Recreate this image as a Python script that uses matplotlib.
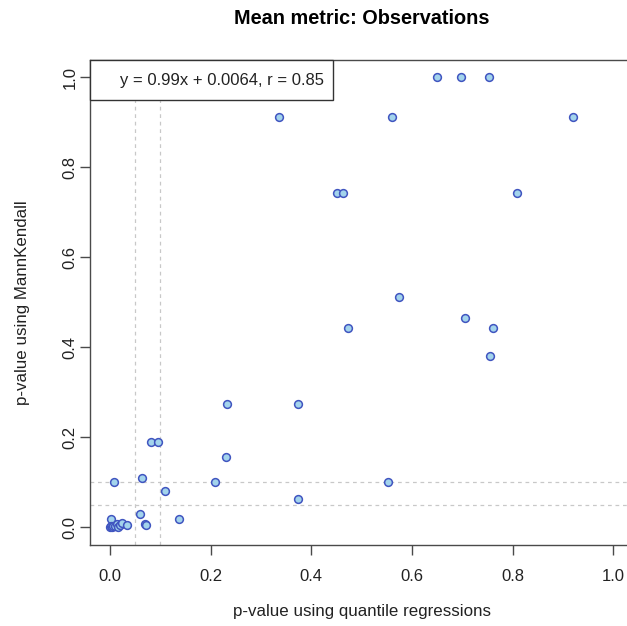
import matplotlib
matplotlib.use("Agg")
import matplotlib.pyplot as plt
from matplotlib.patches import Rectangle

plt.rcParams['font.family'] = ['Liberation Sans', 'DejaVu Sans']

# p-values (x: quantile regressions, y: MannKendall)
x_qr = [0.649, 0.698, 0.754,
        0.336, 0.560, 0.919,
        0.451, 0.463, 0.809,
        0.575, 0.705, 0.472, 0.762, 0.756,
        0.232, 0.374, 0.230,
        0.0815, 0.096,
        0.008, 0.063, 0.208, 0.552, 0.109, 0.374,
        0.060, 0.137, 0.069, 0.071, 0.002,
        0.000, 0.001, 0.004, 0.006, 0.010, 0.013, 0.016, 0.020, 0.024, 0.033]
y_mk = [1.000, 1.000, 1.000,
        0.913, 0.913, 0.913,
        0.742, 0.742, 0.742,
        0.512, 0.466, 0.443, 0.443, 0.381,
        0.274, 0.274, 0.156,
        0.190, 0.190,
        0.101, 0.108, 0.101, 0.101, 0.080, 0.062,
        0.029, 0.017, 0.007, 0.005, 0.018,
        0.000, 0.002, 0.000, 0.003, 0.002, 0.006, 0.001, 0.004, 0.008, 0.004]
thresholds = [0.05, 0.1]
ticks = [0.0, 0.2, 0.4, 0.6, 0.8, 1.0]
tick_labels = ["0.0", "0.2", "0.4", "0.6", "0.8", "1.0"]
title = "Mean metric: Observations"
xlabel = "p-value using quantile regressions"
ylabel = "p-value using MannKendall"
fit_text = "y = 0.99x + 0.0064, r = 0.85"

W, H = 627, 626
fig = plt.figure(figsize=(W / 100, H / 100), dpi=100)
L, R, T, B = 89.9, 633.4, 59.5, 545.0
ax = fig.add_axes([L / W, 1 - B / H, (R - L) / W, (B - T) / H])
ax.set_xlim(-0.04, 1.04)
ax.set_ylim(-0.04, 1.04)

for t in thresholds:
    ax.axhline(t, color='#c8c8c8', lw=0.9, dashes=(3, 3), zorder=1)
    ax.axvline(t, color='#c8c8c8', lw=0.9, dashes=(3, 3), zorder=1)

ax.plot(x_qr, y_mk, linestyle='none', marker='o', markersize=5.6,
        markerfacecolor='#a3d4ec', markeredgecolor='#4055c0',
        markeredgewidth=1.1, zorder=3, clip_on=False)

for s in ax.spines.values():
    s.set_color('#4a4a4a')
    s.set_linewidth(1.0)

ax.set_xticks(ticks)
ax.set_xticklabels(tick_labels)
ax.set_yticks(ticks)
ax.set_yticklabels(tick_labels, rotation=90, va='center')
ax.tick_params(axis='both', direction='out', length=7.5, width=1.0,
               color='#4a4a4a', labelsize=12, labelcolor='#222222')
ax.tick_params(axis='x', pad=10)
ax.tick_params(axis='y', pad=1.5)

ax.set_xlabel(xlabel, fontsize=12.2, color='#222222', labelpad=14.5)
ax.set_ylabel(ylabel, fontsize=12.2, color='#222222', labelpad=23)
fig.text(362 / W, 1 - 18.5 / H, title, fontsize=14.3, fontweight='bold',
         ha='center', va='center', color='black')

# legend-style box in the top-left corner
bx1 = (333 - L) / (R - L)
by0 = (B - 99.5) / (B - T)
ax.add_patch(Rectangle((0, by0), bx1, 1 - by0, transform=ax.transAxes,
                       facecolor='white', edgecolor='#333333', lw=1.0,
                       zorder=5, clip_on=False))
ax.text((120 - L) / (R - L), (B - 80) / (B - T), fit_text,
        transform=ax.transAxes, fontsize=12, ha='left', va='center',
        color='#222222', zorder=6)

fig.savefig("out.png", dpi=100)
